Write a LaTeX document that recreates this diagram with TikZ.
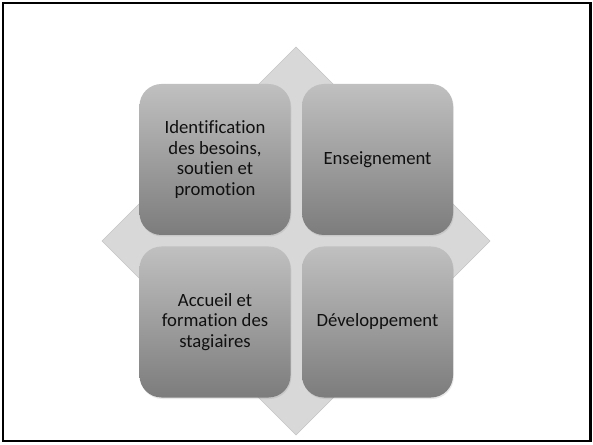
\documentclass[tikz,border=0pt]{standalone}
\usepackage{fontspec}
\setmainfont[Ligatures=NoCommon]{Carlito}
\usetikzlibrary{shadows}
\definecolor{diafill}{HTML}{D8D8D8}
\definecolor{diaedge}{HTML}{C4C4C4}
\definecolor{boxtop}{HTML}{C0C0C0}
\definecolor{boxbot}{HTML}{7C7C7C}
\definecolor{txt}{HTML}{101010}
\tikzset{
  quadbox/.style={minimum width=151pt, minimum height=151pt, rounded corners=22pt,
    top color=boxtop, bottom color=boxbot, draw=none, text=txt, align=center,
    font=\fontsize{18.7pt}{20.8pt}\selectfont,
    drop shadow={opacity=0.18, shadow xshift=0.8pt, shadow yshift=-1.5pt}},
  frameline/.style={draw=black, line width=2.2pt}
}
\begin{document}
\begin{tikzpicture}[x=1pt,y=1pt]
\useasboundingbox (0,0) rectangle (593,444);
\fill[white] (0,0) rectangle (593,444);
\draw[frameline] (3,3) rectangle (590.5,441);
% background diamond
\filldraw[fill=diafill, draw=diaedge, line width=0.6pt]
  (296,397) -- (490,203) -- (296,9) -- (102,203) -- cycle;
\node[quadbox] (tl) at (215,284.5) {Identification\\des besoins,\\soutien et\\promotion};
\node[quadbox] (tr) at (377.5,284.5) {Enseignement};
\node[quadbox] (bl) at (215,122) {Accueil et\\formation des\\stagiaires};
\node[quadbox] (br) at (377.5,122) {Développement};
\end{tikzpicture}
\end{document}
